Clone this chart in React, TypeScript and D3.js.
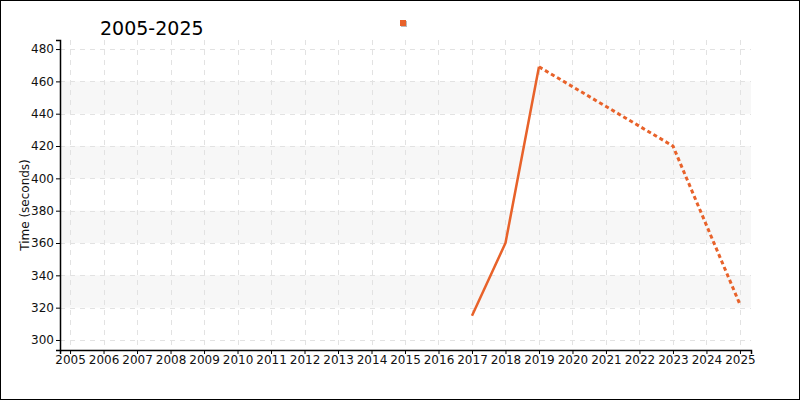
import React, { useEffect, useRef } from "react";
import * as d3 from "d3";

const years = [2017, 2018, 2019, 2023, 2025];
const times = [315, 360, 469, 420, 322];
const solidCount = 3; // first points drawn solid, the rest dashed
const xTicks = d3.range(2005, 2026);
const yTicks = [300, 320, 340, 360, 380, 400, 420, 440, 460, 480];
const bands = [[320, 340], [360, 380], [400, 420], [440, 460]];
const title = "2005-2025";
const yLabel = "Time (seconds)";

const W = 800, H = 400;
const margin = { top: 40, right: 49, bottom: 50, left: 60 };
const font = "DejaVu Sans, Verdana, sans-serif";
const orange = "#e8622a";

export default function App() {
  const ref = useRef<SVGSVGElement>(null);

  useEffect(() => {
    const svg = d3.select(ref.current);
    svg.selectAll("*").remove();
    const w = W - margin.left - margin.right;
    const h = H - margin.top - margin.bottom;

    svg.append("rect").attr("x", 0.5).attr("y", 0.5).attr("width", W - 1).attr("height", H - 1)
      .attr("fill", "#fff").attr("stroke", "#000");

    const g = svg.append("g").attr("transform", `translate(${margin.left},${margin.top})`);

    const x = d3.scaleLinear().domain([2004.7, 2025.33]).range([0, w]);
    const y = d3.scaleLinear().domain([293.8, 485.6]).range([h, 0]);

    g.selectAll(".band").data(bands).join("rect")
      .attr("x", 0).attr("width", w)
      .attr("y", d => y(d[1])).attr("height", d => y(d[0]) - y(d[1]))
      .attr("fill", "#f7f7f7");

    g.selectAll(".vgrid").data(xTicks).join("line")
      .attr("x1", d => Math.round(x(d)) + 0.5).attr("x2", d => Math.round(x(d)) + 0.5)
      .attr("y1", 0).attr("y2", h)
      .attr("stroke", "#e2e2e2").attr("stroke-dasharray", "5,5");
    g.selectAll(".hgrid").data(yTicks).join("line")
      .attr("y1", d => Math.round(y(d)) + 0.5).attr("y2", d => Math.round(y(d)) + 0.5)
      .attr("x1", 0).attr("x2", w)
      .attr("stroke", "#e2e2e2").attr("stroke-dasharray", "5,5");

    const xAxis = g.append("g").attr("transform", `translate(0,${h})`)
      .call(d3.axisBottom(x).tickValues(xTicks).tickFormat(d3.format("d")).tickSizeOuter(0).tickSize(4));
    const yAxis = g.append("g")
      .call(d3.axisLeft(y).tickValues(yTicks).tickSizeOuter(0).tickSize(4));
    [xAxis, yAxis].forEach(a => {
      a.selectAll("text").attr("font-family", font).attr("font-size", 12).attr("fill", "#111");
      a.select(".domain").attr("stroke", "#000").attr("stroke-width", 1.5);
      a.selectAll(".tick line").attr("stroke", "#000");
    });
    xAxis.selectAll("text").attr("dy", "0.85em").attr("y", 4);
    yAxis.selectAll("text").attr("x", -6);

    const pts = years.map((yr, i) => [yr, times[i]] as [number, number]);
    const line = d3.line<[number, number]>().x(d => x(d[0])).y(d => y(d[1]));

    g.append("path").datum(pts.slice(0, solidCount)).attr("d", line)
      .attr("fill", "none").attr("stroke", orange).attr("stroke-width", 2.5)
      .attr("stroke-linejoin", "round");
    g.append("path").datum(pts.slice(solidCount - 1)).attr("d", line)
      .attr("fill", "none").attr("stroke", orange).attr("stroke-width", 3)
      .attr("stroke-dasharray", "4,3");

    svg.append("text").attr("x", 100).attr("y", 35)
      .attr("font-family", font).attr("font-size", 19).attr("fill", "#000").text(title);

    svg.append("text").attr("transform", `translate(29,${margin.top + h / 2 + 10}) rotate(-90)`)
      .attr("text-anchor", "middle").attr("font-family", font).attr("font-size", 12).attr("fill", "#111")
      .text(yLabel);

    svg.append("rect").attr("x", 401).attr("y", 21).attr("width", 6).attr("height", 6).attr("fill", "#bbb");
    svg.append("rect").attr("x", 400).attr("y", 20).attr("width", 6).attr("height", 6).attr("fill", orange);
  }, []);

  return (
    <svg ref={ref} width={W} height={H}
      style={{ position: "absolute", left: 0, top: 0, display: "block" }} />
  );
}
